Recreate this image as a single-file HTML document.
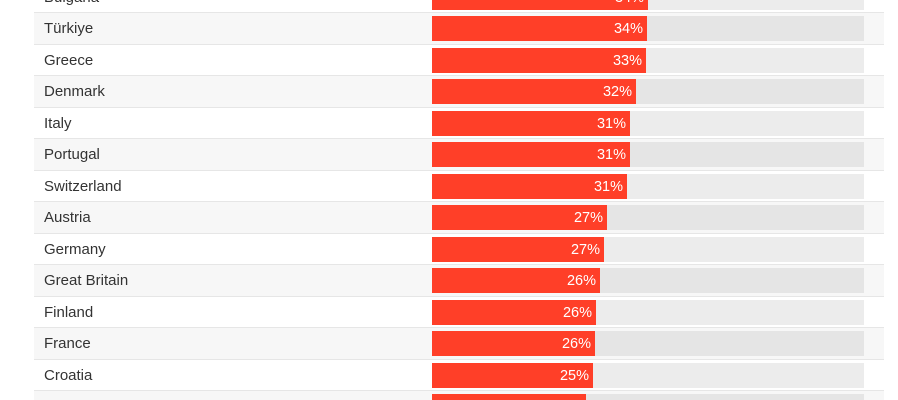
<!DOCTYPE html>
<html><head><meta charset="utf-8"><style>
html,body{margin:0;width:898px;height:400px;overflow:hidden;background:#fff;font-family:"Liberation Sans",sans-serif;position:relative}
.r{position:absolute;left:34px;width:850px;height:31.5px;border-top:1px solid #e6e6e6;box-sizing:border-box;overflow:hidden}
.g{background:#f7f7f7}
.n{position:absolute;left:10px;top:7px;font-size:15px;color:#333;line-height:18px}
.t{position:absolute;left:398px;width:432px;top:3px;height:25px;background:#ececec}
.g .t{background:#e5e5e5}
.b{position:absolute;left:0;top:0;height:25px;background:#ff3f28;color:#fff;font-size:14.5px;text-align:right;box-sizing:border-box;padding-right:4px;line-height:26px}
</style></head><body>
<div class="r" style="top:0;height:12px;border-top:none"><div class="n" style="top:-11.5px">Bulgaria</div><div class="t" style="top:-15.5px"><div class="b" style="width:216px">34%</div></div></div>
<div class="r g" style="top:12px"><div class="n">Türkiye</div><div class="t"><div class="b" style="width:215px">34%</div></div></div>
<div class="r" style="top:43.5px"><div class="n">Greece</div><div class="t"><div class="b" style="width:214px">33%</div></div></div>
<div class="r g" style="top:75px"><div class="n">Denmark</div><div class="t"><div class="b" style="width:204px">32%</div></div></div>
<div class="r" style="top:106.5px"><div class="n">Italy</div><div class="t"><div class="b" style="width:198px">31%</div></div></div>
<div class="r g" style="top:138px"><div class="n">Portugal</div><div class="t"><div class="b" style="width:198px">31%</div></div></div>
<div class="r" style="top:169.5px"><div class="n">Switzerland</div><div class="t"><div class="b" style="width:195px">31%</div></div></div>
<div class="r g" style="top:201px"><div class="n">Austria</div><div class="t"><div class="b" style="width:175px">27%</div></div></div>
<div class="r" style="top:232.5px"><div class="n">Germany</div><div class="t"><div class="b" style="width:172px">27%</div></div></div>
<div class="r g" style="top:264px"><div class="n">Great Britain</div><div class="t"><div class="b" style="width:168px">26%</div></div></div>
<div class="r" style="top:295.5px"><div class="n">Finland</div><div class="t"><div class="b" style="width:164px">26%</div></div></div>
<div class="r g" style="top:327px"><div class="n">France</div><div class="t"><div class="b" style="width:163px">26%</div></div></div>
<div class="r" style="top:358.5px"><div class="n">Croatia</div><div class="t"><div class="b" style="width:161px">25%</div></div></div>
<div class="r g" style="top:390px;height:10px"><div class="n">Netherlands</div><div class="t"><div class="b" style="width:154px">24%</div></div></div>
</body></html>
